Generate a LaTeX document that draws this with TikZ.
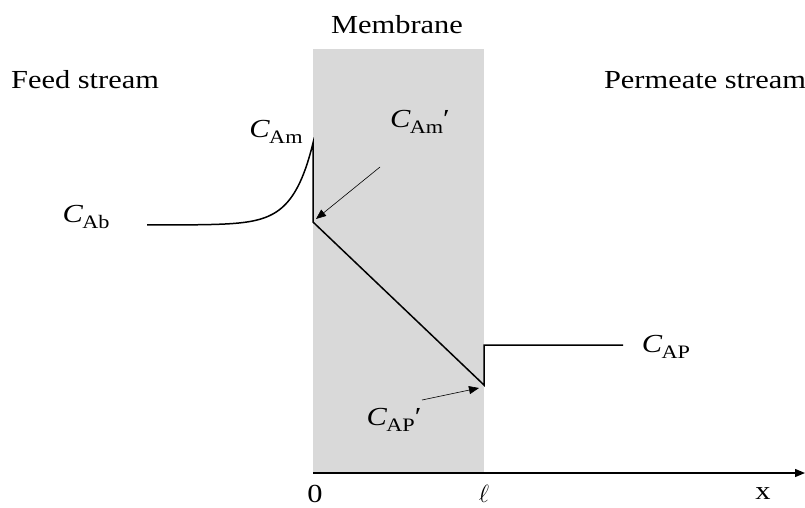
\documentclass[tikz,border=0pt]{standalone}
\usepackage{fontspec}
\setmainfont{Liberation Serif}[FakeStretch=1.17]
\usetikzlibrary{arrows.meta}
\newcommand\cc[1]{\textit{C}\kern-0.03em\raisebox{-0.45ex}{\fontsize{19}{21}\selectfont #1}}
\begin{document}
\begin{tikzpicture}[x=1pt,y=-1pt,
  lbl/.style={font=\fontsize{26}{30}\selectfont, inner sep=0pt},
  curve/.style={line width=1.5pt, line join=miter},
  ptr/.style={line width=0.6pt,-{Triangle[length=10pt,width=8pt]}},
  axis/.style={line width=1.3pt,-{Triangle[length=10pt,width=8pt]}}]
\useasboundingbox (0,0) rectangle (805,507);
\fill[black!15] (313,49) rectangle (484,473);
\coordinate (o) at (313,473);
\coordinate (xend) at (805,473);
\draw[axis] (o) -- (xend);
\node[lbl] (mem) at (397,25) {Membrane};
\node[lbl] (feed) at (85,80) {Feed stream};
\node[lbl] (perm) at (705,80) {Permeate stream};
\node[lbl] (cam) at (276,132) {\cc{Am}};
\node[lbl] (cab) at (86,217) {\cc{Ab}};
\node[lbl] (camp) at (420,122) {\cc{Am}′};
\node[lbl] (cap) at (666,347) {\cc{AP}};
\node[lbl] (capp) at (394,420) {\cc{AP}′};
\node[lbl] (zero) at (315,494) {0};
\node[lbl] (ell) at (484,494) {$\ell$};
\node[lbl] (xlab) at (763,494) {x};
\coordinate (m0) at (313,222);
\coordinate (m1) at (484,385);
\coordinate (p1) at (484,345);
\coordinate (p2) at (623,345);
\draw[curve] plot[domain=147:313, samples=90] (\x, {225-82*exp((\x-313)/20)}) -- (m0) -- (m1) -- (p1) -- (p2);
\coordinate (a1s) at (380,167);
\coordinate (a1e) at (316,219);
\coordinate (a2s) at (422,400);
\coordinate (a2e) at (479,388);
\draw[ptr] (a1s) -- (a1e);
\draw[ptr] (a2s) -- (a2e);
\end{tikzpicture}
\end{document}
